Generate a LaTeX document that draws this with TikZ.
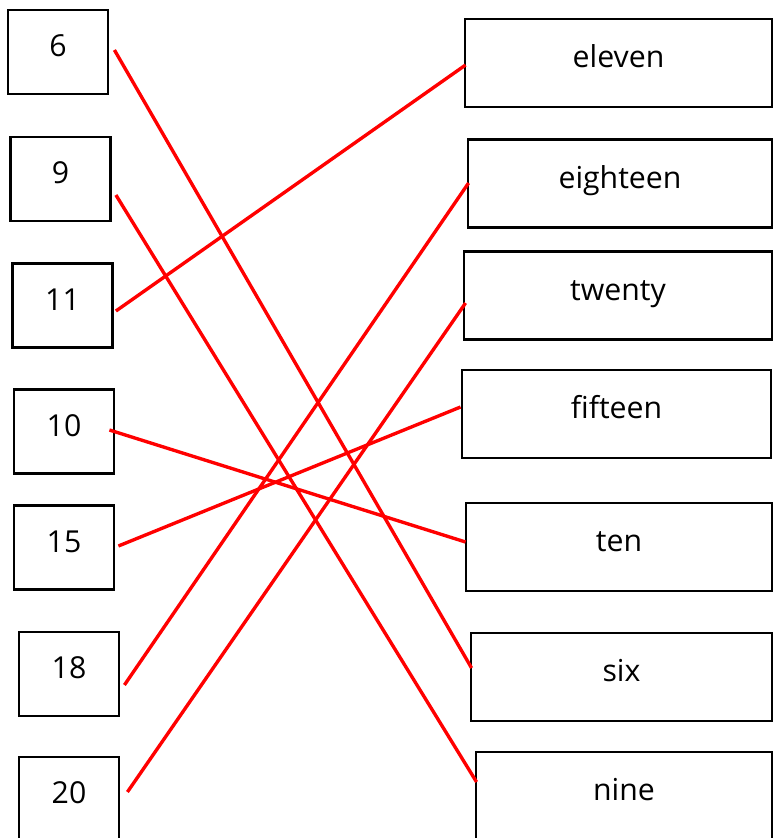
\documentclass[tikz,border=0pt]{standalone}
\usepackage{fontspec}
\setmainfont{Open Sans}
\usepackage{xcolor}
\usepackage{tikz}
\usetikzlibrary{positioning,calc}

\begin{document}
\begin{tikzpicture}[x=0.025cm, y=-0.025cm,
    numbox/.style={draw, rectangle, line width=2pt, inner sep=0pt,
        minimum width=2.5cm, minimum height=2.1cm,
        font=\fontsize{21.5}{25}\selectfont, text height=15pt, text depth=8pt},
    wordbox/.style={draw, rectangle, line width=2pt, inner sep=0pt,
        minimum height=2.2cm,
        font=\fontsize{21.5}{25}\selectfont, text height=15pt, text depth=8pt},
    match/.style={red, line width=2.4pt}]
    \useasboundingbox (0,0) rectangle (773,838);

    % numbers
    \node[numbox] (n6)  at (58,52)    {6};
    \node[numbox] (n9)  at (60.5,179) {9};
    \node[numbox] (n11) at (62.5,305.5) {11};
    \node[numbox] (n10) at (64,431.5) {10};
    \node[numbox] (n15) at (64,547.5) {15};
    \node[numbox] (n18) at (69,674)   {18};
    \node[numbox] (n20) at (69,799)   {20};

    % words
    \node[wordbox, minimum width=7.675cm] (eleven)   at (618.5,63)  {eleven};
    \node[wordbox, minimum width=7.6cm]   (eighteen) at (620,183.5) {eighteen};
    \node[wordbox, minimum width=7.7cm]   (twenty)   at (618,295.5) {twenty};
    \node[wordbox, minimum width=7.725cm] (fifteen)  at (616.5,414) {fifteen};
    \node[wordbox, minimum width=7.65cm]  (ten)      at (619,547)   {ten};
    \node[wordbox, minimum width=7.525cm] (six)      at (621.5,677) {six};
    \node[wordbox, minimum width=7.4cm]   (nine)     at (624,796)   {nine};

    % matching lines
    \draw[match] ($(n6.east)+(5,-2)$)   -- ($(six.west)+(2,-9)$);
    \draw[match] ($(n9.east)+(4,16)$)   -- ($(nine.west)+(2,-14)$);
    \draw[match] ($(n11.east)+(2,5.5)$) -- ($(eleven.west)+(2,2)$);
    \draw[match] ($(n10.east)+(-6,-1.5)$) -- ($(ten.west)+(1,-5)$);
    \draw[match] ($(n15.east)+(3,-1.5)$) -- ($(fifteen.west)+(0,-7)$);
    \draw[match] ($(n18.east)+(4,11)$)  -- ($(eighteen.west)+(2,-0.5)$);
    \draw[match] ($(n20.east)+(7,-7)$)  -- ($(twenty.west)+(3,7.5)$);
\end{tikzpicture}
\end{document}
